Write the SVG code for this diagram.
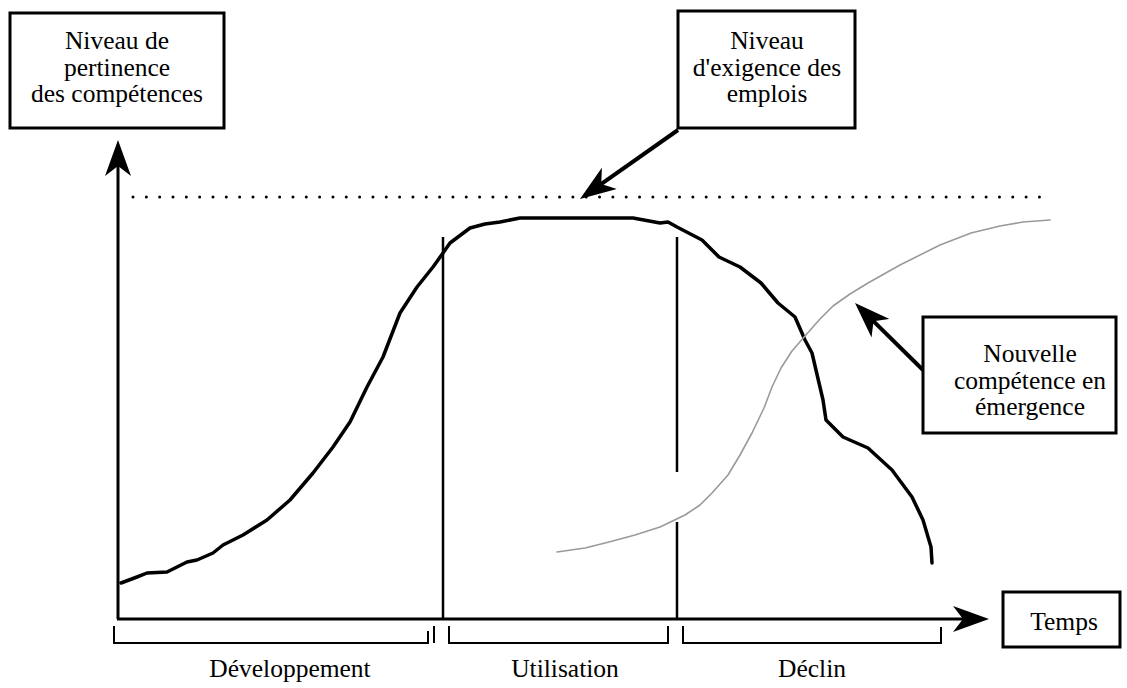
<svg xmlns="http://www.w3.org/2000/svg" width="1127" height="688" viewBox="0 0 1127 688">
  <style>
    .box { fill: #fff; stroke: #000; stroke-width: 3; }
    .lbl { font-family: "Liberation Serif", "Times New Roman", serif; font-size: 25.5px; fill: #000; text-anchor: middle; }
    .axis { stroke: #000; stroke-width: 3; fill: none; }
    .ptr { stroke: #000; stroke-width: 4; fill: none; }
    .phase { stroke: #000; stroke-width: 2.5; fill: none; }
    .brk { stroke: #000; stroke-width: 2; fill: none; }
  </style>
  <defs>
    <marker id="head" markerUnits="userSpaceOnUse" viewBox="0 0 36 26" refX="28" refY="13" markerWidth="36" markerHeight="26" orient="auto">
      <path d="M0,0 L36,13 L0,26 L10,13 Z" fill="#000"/>
    </marker>
  </defs>
  <rect width="1127" height="688" fill="#fff"/>

  <g id="connectors">
    <!-- axes -->
    <line class="axis" x1="118" y1="619" x2="118" y2="148" marker-end="url(#head)"/>
    <line class="axis" x1="117" y1="619" x2="981" y2="619" marker-end="url(#head)"/>
    <!-- required level (dotted) -->
    <line x1="133" y1="197" x2="1040" y2="197" stroke="#000" stroke-width="3" stroke-linecap="round" stroke-dasharray="0 13.33"/>
    <!-- phase separators -->
    <line class="phase" x1="443" y1="237" x2="443" y2="619"/>
    <line class="phase" x1="677" y1="237" x2="677" y2="472"/>
    <line class="phase" x1="677" y1="522" x2="677" y2="619"/>
    <!-- pointers from the label boxes -->
    <line class="ptr" x1="678" y1="130" x2="586.5" y2="194.4" marker-end="url(#head)"/>
    <line class="ptr" x1="923" y1="370" x2="860.7" y2="308.6" marker-end="url(#head)"/>
    <!-- phase brackets -->
    <path class="brk" d="M114,626 V643 H428 V631"/>
    <line class="brk" x1="434" y1="626" x2="434" y2="643"/>
    <path class="brk" d="M449,626 V643 H668 V626"/>
    <path class="brk" d="M683,626 V643 H941 V627"/>
  </g>

  <g id="curve-current">
    <polyline fill="none" stroke="#000" stroke-width="3.5" stroke-linejoin="round" stroke-linecap="round"
      points="121,583 137,577 147,573 167,572 187,562 197,560 213,553 223,545 243,535 267,520 290,500 313,473 333,447 350,422 367,387 383,357 400,313 417,287 433,267 443,253 450,243 470,228 485,224 500,222 520,218 633,218 660,223 668,222 677,227 702,240 719,257 740,267 761,283 778,303 795,317 805,340 812,353 823,400 826,420 843,437 868,448 892,470 912,497 923,520 931,547 932,563"/>
  </g>

  <g id="curve-emerging">
    <polyline fill="none" stroke="#9a9a9a" stroke-width="1.6" stroke-linejoin="round" stroke-linecap="round"
      points="557,552 585,548 609,542 635,535 660,527 685,515 700,505 712,493 728,475 740,455 752,433 764,408 772,387 781,368 792,351 805,336 820,319 833,306 850,294 868,283 900,265 940,245 971,233 1000,226 1023,222 1050,220"/>
  </g>

  <g id="box-pertinence">
    <rect class="box" x="10" y="13" width="214" height="115"/>
    <text class="lbl" x="117" y="49">Niveau de</text>
    <text class="lbl" x="117" y="75.5">pertinence</text>
    <text class="lbl" x="117" y="102">des compétences</text>
  </g>

  <g id="box-exigence">
    <rect class="box" x="678" y="11" width="177" height="117"/>
    <text class="lbl" x="767" y="49">Niveau</text>
    <text class="lbl" x="767" y="75.5">d'exigence des</text>
    <text class="lbl" x="767" y="102">emplois</text>
  </g>

  <g id="box-nouvelle">
    <rect class="box" x="923" y="317" width="193" height="116"/>
    <text class="lbl" x="1030" y="362">Nouvelle</text>
    <text class="lbl" x="1030" y="388.5">compétence en</text>
    <text class="lbl" x="1030" y="415">émergence</text>
  </g>

  <g id="box-temps">
    <rect class="box" x="1003" y="592" width="117" height="55"/>
    <text class="lbl" x="1064" y="630">Temps</text>
  </g>

  <g id="phase-labels">
    <text class="lbl" x="290" y="677">Développement</text>
    <text class="lbl" x="565" y="677">Utilisation</text>
    <text class="lbl" x="812" y="677">Déclin</text>
  </g>
</svg>
